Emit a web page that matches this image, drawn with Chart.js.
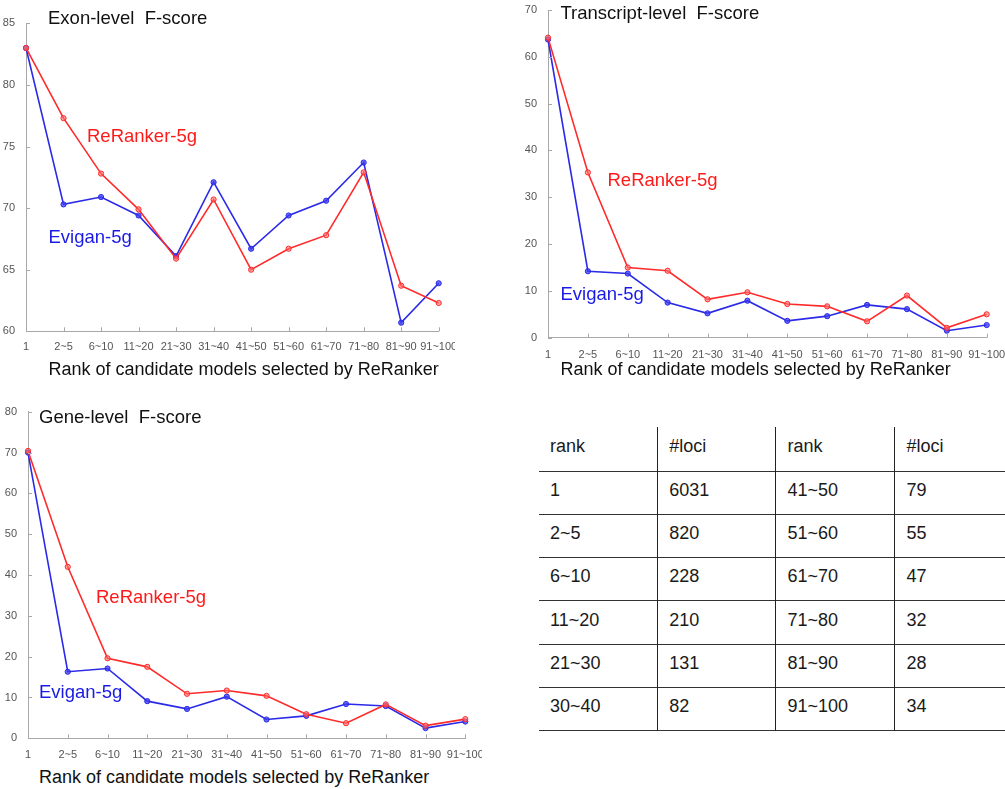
<!DOCTYPE html>
<html>
<head>
<meta charset="utf-8">
<script src="https://cdn.jsdelivr.net/npm/chart.js@4.4.1/dist/chart.umd.min.js"></script>
<style>
  html, body { margin: 0; padding: 0; background: #fff; }
  body { width: 1005px; height: 789px; position: relative; overflow: hidden;
         font-family: "Liberation Sans", Arial, Helvetica, sans-serif; }
  canvas { position: absolute; }
  .txt { position: absolute; white-space: nowrap; line-height: 1; }
  .title { font-size: 18.5px; color: #111; }
  .axis-title { font-size: 18px; color: #111; }
  .red { color: #ff1a1a; font-size: 18.5px; }
  .blue { color: #1a1ae6; font-size: 18.5px; }
  table { position: absolute; left: 539px; top: 427px; border-collapse: collapse;
          font-size: 18px; color: #1a1a1a; table-layout: fixed; }
  td { padding: 0 0 5px 11px; vertical-align: middle; border-right: 1.5px solid #222; }
  td:last-child { border-right: none; }
  tr { border-bottom: 1.5px solid #333; height: 43.3px; }
  tr.head { height: 44px; }
</style>
</head>
<body>

<canvas id="exon" width="455" height="360" style="left:0;top:0"></canvas>
<canvas id="transcript" width="485" height="360" style="left:520px;top:0"></canvas>
<canvas id="gene" width="482" height="360" style="left:0;top:400px"></canvas>

<div class="txt title" style="left:48px;top:9px">Exon-level&nbsp; F-score</div>
<div class="txt red" style="left:87px;top:127px">ReRanker-5g</div>
<div class="txt blue" style="left:48.5px;top:228px">Evigan-5g</div>
<div class="txt axis-title" style="left:48.5px;top:359.5px">Rank of candidate models selected by ReRanker</div>

<div class="txt title" style="left:560.5px;top:4px">Transcript-level&nbsp; F-score</div>
<div class="txt red" style="left:607.5px;top:171px">ReRanker-5g</div>
<div class="txt blue" style="left:560.5px;top:284.5px">Evigan-5g</div>
<div class="txt axis-title" style="left:560.5px;top:359.5px">Rank of candidate models selected by ReRanker</div>

<div class="txt title" style="left:39px;top:407.5px">Gene-level&nbsp; F-score</div>
<div class="txt red" style="left:96px;top:587.5px">ReRanker-5g</div>
<div class="txt blue" style="left:39px;top:682.5px">Evigan-5g</div>
<div class="txt axis-title" style="left:39px;top:768px">Rank of candidate models selected by ReRanker</div>

<table id="lociTable"></table>

<script>
// x categories shared by all three panels
const rankLabels = ["1", "2~5", "6~10", "11~20", "21~30", "31~40",
  "41~50", "51~60", "61~70", "71~80", "81~90", "91~100"];

// Exon-level F-score
const exonReRanker = [83.0, 77.3, 72.8, 69.9, 65.9, 70.7, 65.0, 66.7, 67.8, 72.9, 63.7, 62.3];
const exonEvigan   = [83.0, 70.3, 70.9, 69.4, 66.1, 72.1, 66.7, 69.4, 70.6, 73.7, 60.7, 63.9];

// Transcript-level F-score
const transcriptReRanker = [64.1, 35.3, 15.0, 14.3, 8.2, 9.7, 7.2, 6.7, 3.5, 9.0, 2.1, 5.0];
const transcriptEvigan   = [63.7, 14.2, 13.7, 7.5, 5.2, 7.9, 3.6, 4.6, 7.0, 6.1, 1.5, 2.7];

// Gene-level F-score
const geneReRanker = [70.4, 42.0, 19.6, 17.5, 10.9, 11.7, 10.4, 5.9, 3.7, 8.3, 3.1, 4.7];
const geneEvigan   = [70.0, 16.3, 17.1, 9.1, 7.2, 10.2, 4.6, 5.5, 8.4, 7.9, 2.5, 4.1];

// table: loci per rank bucket
const tableHeader = ["rank", "#loci", "rank", "#loci"];
const ranksLeft  = ["1", "2~5", "6~10", "11~20", "21~30", "30~40"];
const lociLeft   = [6031, 820, 228, 210, 131, 82];
const ranksRight = ["41~50", "51~60", "61~70", "71~80", "81~90", "91~100"];
const lociRight  = [79, 55, 47, 32, 28, 34];

const RED = "#ff2a2a";
const BLUE = "#2a2ae8";
const AXIS = "#a8a8a8";
const TICK_TXT = "#555";

// MATLAB-style inward tick marks on the left and bottom axes
const inwardTicks = {
  id: "inwardTicks",
  afterDatasetsDraw(chart) {
    const { ctx, chartArea: a, scales: { x, y } } = chart;
    ctx.save();
    ctx.strokeStyle = AXIS;
    ctx.lineWidth = 1;
    ctx.beginPath();
    x.ticks.forEach((t, i) => {
      const px = Math.round(x.getPixelForTick(i)) + 0.5;
      ctx.moveTo(px, a.bottom);
      ctx.lineTo(px, a.bottom - 4);
    });
    y.ticks.forEach((t, i) => {
      const py = Math.round(y.getPixelForTick(i)) + 0.5;
      ctx.moveTo(a.left, py);
      ctx.lineTo(a.left + 4, py);
    });
    ctx.stroke();
    ctx.restore();
  },
};

function makeChart(id, reranker, evigan, yMin, yMax, step, box) {
  const font = { family: "'Liberation Sans', Arial, sans-serif", size: 11 };
  return new Chart(document.getElementById(id), {
    type: "line",
    data: {
      labels: rankLabels,
      datasets: [
        {
          label: "ReRanker-5g",
          data: reranker,
          borderColor: RED,
          backgroundColor: RED,
          pointBackgroundColor: "rgba(255,110,110,0.6)",
          borderWidth: 1.6,
          pointRadius: 2.6,
          pointBorderWidth: 1,
          tension: 0,
        },
        {
          label: "Evigan-5g",
          data: evigan,
          borderColor: BLUE,
          backgroundColor: BLUE,
          pointBackgroundColor: "rgba(60,60,240,0.75)",
          borderWidth: 1.6,
          pointRadius: 2.6,
          pointBorderWidth: 1,
          tension: 0,
        },
      ],
    },
    options: {
      responsive: false,
      animation: false,
      devicePixelRatio: 1,
      layout: { padding: { top: box.top, right: box.right, left: 0, bottom: 0 } },
      plugins: { legend: { display: false }, tooltip: { enabled: false } },
      scales: {
        x: {
          offset: false,
          grid: { display: false },
          border: { color: AXIS, width: 1 },
          ticks: { color: TICK_TXT, font, padding: box.xPad, maxRotation: 0, autoSkip: false },
          afterFit(s) {
            s.height = box.bottom;
            s.paddingLeft = 0;
            s.paddingRight = 0;
          },
        },
        y: {
          min: yMin,
          max: yMax,
          grid: { display: false },
          border: { color: AXIS, width: 1 },
          ticks: { color: TICK_TXT, font, padding: 3, stepSize: step, autoSkip: false },
          afterFit(s) {
            s.width = box.left;
            s.paddingTop = 0;
            s.paddingBottom = 0;
          },
        },
      },
    },
    plugins: [inwardTicks],
  });
}

makeChart("exon", exonReRanker, exonEvigan, 60, 85, 5,
  { top: 23.3, right: 16.3, left: 26, bottom: 28.7, xPad: 1.5 });
makeChart("transcript", transcriptReRanker, transcriptEvigan, 0, 70, 10,
  { top: 10, right: 18.3, left: 28, bottom: 22.3, xPad: 2.5 });
makeChart("gene", geneReRanker, geneEvigan, 0, 80, 10,
  { top: 11.7, right: 16.7, left: 28, bottom: 21.7, xPad: 2.5 });

// loci table
const table = document.getElementById("lociTable");
const colWidths = [118.7, 118.3, 119, 110];
const cg = document.createElement("colgroup");
colWidths.forEach((w) => {
  const c = document.createElement("col");
  c.style.width = w + "px";
  cg.appendChild(c);
});
table.appendChild(cg);
function addRow(cells, cls) {
  const tr = document.createElement("tr");
  if (cls) tr.className = cls;
  cells.forEach((v) => {
    const td = document.createElement("td");
    td.textContent = v;
    tr.appendChild(td);
  });
  table.appendChild(tr);
}
addRow(tableHeader, "head");
ranksLeft.forEach((r, i) => addRow([r, lociLeft[i], ranksRight[i], lociRight[i]]));
</script>
</body>
</html>
